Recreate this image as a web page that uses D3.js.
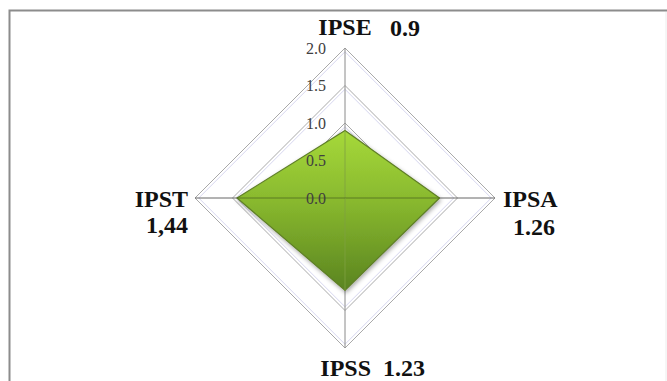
<!DOCTYPE html>
<html>
<head>
<meta charset="utf-8">
<script src="https://cdn.jsdelivr.net/npm/d3@7/dist/d3.min.js"></script>
<style>
  html, body { margin: 0; padding: 0; background: #fff; }
  svg { display: block; }
</style>
</head>
<body>
<svg id="chart" width="667" height="381"></svg>
<script>
const categories = ["IPSE", "IPSA", "IPSS", "IPST"];
const values = [0.9, 1.26, 1.23, 1.44];
const valueLabels = ["0.9", "1.26", "1.23", "1,44"];
const ticks = [0.0, 0.5, 1.0, 1.5, 2.0];
const tickLabels = ["0.0", "0.5", "1.0", "1.5", "2.0"];

const serif = "'Liberation Serif', 'Times New Roman', serif";
const svg = d3.select("#chart");
const W = 667, H = 381;
const cx = 345, cy = 198;
const r = d3.scaleLinear().domain([0, 2]).range([0, 150]);
const angle = d3.scaleOrdinal().domain(categories).range([0, 90, 180, 270].map(a => a * Math.PI / 180));
const pt = (c, v) => [cx + r(v) * Math.sin(angle(c)), cy - r(v) * Math.cos(angle(c))];

// frame
svg.append("path").attr("d", `M9.5,${H+5} V10.5 H${W+5}`)
  .attr("fill", "none").attr("stroke", "#8c8c8c").attr("stroke-width", 2);
svg.append("line").attr("x1", 666).attr("x2", 666).attr("y1", 12).attr("y2", H)
  .attr("stroke", "#ececec").attr("stroke-width", 1);

const defs = svg.append("defs");
const grad = defs.append("linearGradient").attr("id", "g").attr("x1", 0).attr("y1", 0).attr("x2", 0).attr("y2", 1);
grad.append("stop").attr("offset", "0%").attr("stop-color", "#a6d93a");
grad.append("stop").attr("offset", "45%").attr("stop-color", "#88b82e");
grad.append("stop").attr("offset", "100%").attr("stop-color", "#5a8420");
const f = defs.append("filter").attr("id", "sh").attr("x", "-20%").attr("y", "-20%").attr("width", "140%").attr("height", "140%");
f.append("feDropShadow").attr("dx", 1).attr("dy", 2).attr("stdDeviation", 2).attr("flood-color", "#000").attr("flood-opacity", 0.35);

const line = d3.line().curve(d3.curveLinearClosed);

// grid rings (with faint lavender companion)
ticks.filter(t => t > 0).forEach(t => {
  svg.append("path").attr("d", line(categories.map(c => pt(c, t - 0.05))))
    .attr("fill", "none").attr("stroke", "#d6d6ef").attr("stroke-width", 1);
  svg.append("path").attr("d", line(categories.map(c => pt(c, t))))
    .attr("fill", "none").attr("stroke", "#a9a9a9").attr("stroke-width", 1);
});

// spokes
categories.forEach(c => {
  const [x, y] = pt(c, 2);
  const horiz = (c === "IPSA" || c === "IPST");
  svg.append("line").attr("x1", cx).attr("y1", cy).attr("x2", x).attr("y2", y)
    .attr("stroke", horiz ? "#666" : "#8a8a8a").attr("stroke-width", 1);
});

// data polygon
svg.append("path").attr("d", line(categories.map((c, i) => pt(c, values[i]))))
  .attr("fill", "url(#g)").attr("stroke", "#5e7e26").attr("stroke-width", 1.2)
  .attr("stroke-linejoin", "round").attr("filter", "url(#sh)");

// spokes faintly over polygon
categories.forEach((c, i) => {
  const [x, y] = pt(c, values[i]);
  svg.append("line").attr("x1", cx).attr("y1", cy).attr("x2", x).attr("y2", y)
    .attr("stroke", (c === "IPSA" || c === "IPST") ? "#4f6a20" : "#7fa040").attr("stroke-width", 1).attr("opacity", 0.8);
});

// tick labels
svg.append("g").selectAll("text").data(ticks).join("text")
  .attr("x", cx - 19).attr("y", d => cy - r(d))
  .attr("dy", "0.35em").attr("text-anchor", "end")
  .style("font-family", serif)
  .attr("font-size", 16).attr("fill", "#404040")
  .text((d, i) => tickLabels[i]);

// category labels
const lab = svg.append("g")
  .style("font-family", serif)
  .attr("font-weight", "bold").attr("font-size", 24).attr("fill", "#111");

// IPSE (top)
{
  const [x, y] = pt("IPSE", 2);
  lab.append("text").attr("x", x).attr("y", y - 13).attr("text-anchor", "middle").text(categories[0]);
  lab.append("text").attr("x", x + 45).attr("y", y - 12).attr("text-anchor", "start").text(valueLabels[0]);
}
// IPSA (right)
{
  const [x, y] = pt("IPSA", 2);
  lab.append("text").attr("x", x + 8).attr("y", y + 9).attr("text-anchor", "start").text(categories[1]);
  lab.append("text").attr("x", x + 39).attr("y", y + 37).attr("text-anchor", "middle").text(valueLabels[1]);
}
// IPSS (bottom)
{
  const [x, y] = pt("IPSS", 2);
  lab.append("text").attr("x", x + 26).attr("y", y + 28).attr("text-anchor", "end").text(categories[2]);
  lab.append("text").attr("x", x + 38).attr("y", y + 28).attr("text-anchor", "start").text(valueLabels[2]);
}
// IPST (left)
{
  const [x, y] = pt("IPST", 2);
  lab.append("text").attr("x", x - 7).attr("y", y + 9).attr("text-anchor", "end").text(categories[3]);
  lab.append("text").attr("x", x - 7).attr("y", y + 35).attr("text-anchor", "end").text(valueLabels[3]);
}
</script>
</body>
</html>
